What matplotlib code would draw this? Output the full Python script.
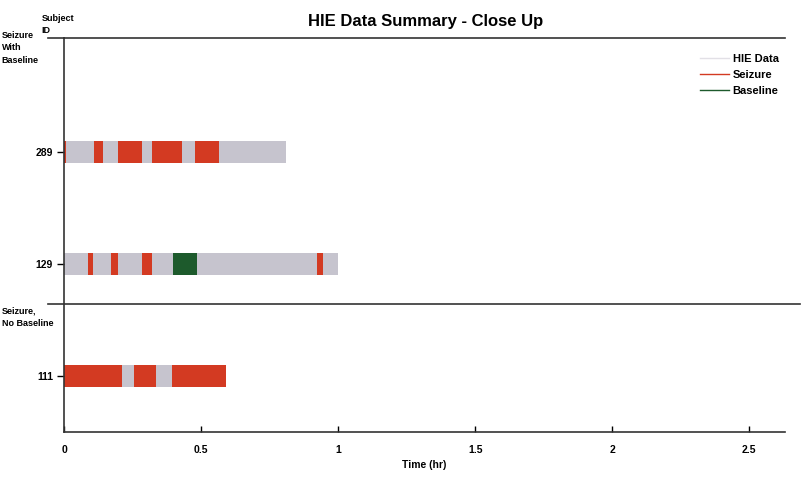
import matplotlib.pyplot as plt
from matplotlib.lines import Line2D

plt.rcParams['font.family'] = ['Liberation Sans Narrow', 'Liberation Sans', 'DejaVu Sans']
plt.rcParams['font.weight'] = 'bold'

# subjects and their y positions
subjects = ['111', '129', '289']
subject_y = [1, 2, 3]

# total recording length (hr) for each subject
data_end = [0.592, 1.0, 0.81]

# seizure intervals (start, end) in hours
seizures = {
    '289': [(0.0, 0.006), (0.108, 0.141), (0.195, 0.286), (0.32, 0.43), (0.478, 0.566)],
    '129': [(0.089, 0.107), (0.172, 0.198), (0.284, 0.32), (0.921, 0.945)],
    '111': [(0.0, 0.213), (0.254, 0.337), (0.392, 0.592)],
}
# baseline intervals
baselines = {
    '129': [(0.398, 0.485)],
}

gray = '#c6c4ce'
red = '#d33a22'
green = '#1d5a2c'

fig = plt.figure(figsize=(8.01, 4.86), dpi=100)
ax = fig.add_axes([0.080, 0.111, 0.900, 0.811])

bh = 0.2
for name, y, end in zip(subjects, subject_y, data_end):
    ax.broken_barh([(0.0, end)], (y - bh / 2, bh), facecolors=gray)
    for s, e in seizures.get(name, []):
        ax.broken_barh([(s, e - s)], (y - bh / 2, bh), facecolors=red)
    for s, e in baselines.get(name, []):
        ax.broken_barh([(s, e - s)], (y - bh / 2, bh), facecolors=green)

ax.set_xlim(0, 2.63)
ax.set_ylim(0.5, 4.02)
ax.set_yticks(subject_y)
ax.set_yticklabels(subjects, fontsize=7.5, fontweight='bold')
ax.set_xticks([0, 0.5, 1, 1.5, 2, 2.5])
ax.set_xticklabels(['0', '0.5', '1', '1.5', '2', '2.5'], fontsize=7.5, fontweight='bold')
ax.tick_params(axis='x', length=4, width=1, pad=9, direction='in')
ax.tick_params(axis='y', length=5, width=1, pad=3)
ax.spines['right'].set_visible(False)
for sp in ['left', 'bottom', 'top']:
    ax.spines[sp].set_linewidth(1.2)
    ax.spines[sp].set_color('#333333')

# extended top and separator lines
ax.plot([-0.022, 0], [1, 1], transform=ax.transAxes, clip_on=False, color='#333333', lw=1.2)
ax.plot([-0.022, 1.021], [0.325, 0.325], transform=ax.transAxes, clip_on=False,
        color='#333333', lw=1.2)

ax.set_xlabel('Time (hr)', fontsize=7.5, fontweight='bold', labelpad=4)
fig.text(0.531, 0.955, 'HIE Data Summary - Close Up', ha='center', va='center',
         fontsize=12, fontweight='bold')
fig.text(0.052, 0.950, 'Subject\nID', ha='left', va='center', fontsize=6.5, fontweight='bold',
         linespacing=1.5)
fig.text(0.002, 0.902, 'Seizure\nWith\nBaseline', ha='left', va='center', fontsize=6.5,
         fontweight='bold', linespacing=1.5)
fig.text(0.002, 0.347, 'Seizure,\nNo Baseline', ha='left', va='center', fontsize=6.5,
         fontweight='bold', linespacing=1.6)

handles = [Line2D([], [], color='#e2e0e6', lw=1),
           Line2D([], [], color=red, lw=1),
           Line2D([], [], color=green, lw=1)]
ax.legend(handles, ['HIE Data', 'Seizure', 'Baseline'], loc='upper right',
          bbox_to_anchor=(1.005, 0.985), frameon=False, handlelength=2.6,
          handletextpad=0.3, labelspacing=0.55,
          prop={'weight': 'bold', 'size': 8})

fig.savefig('out.png', dpi=100)
